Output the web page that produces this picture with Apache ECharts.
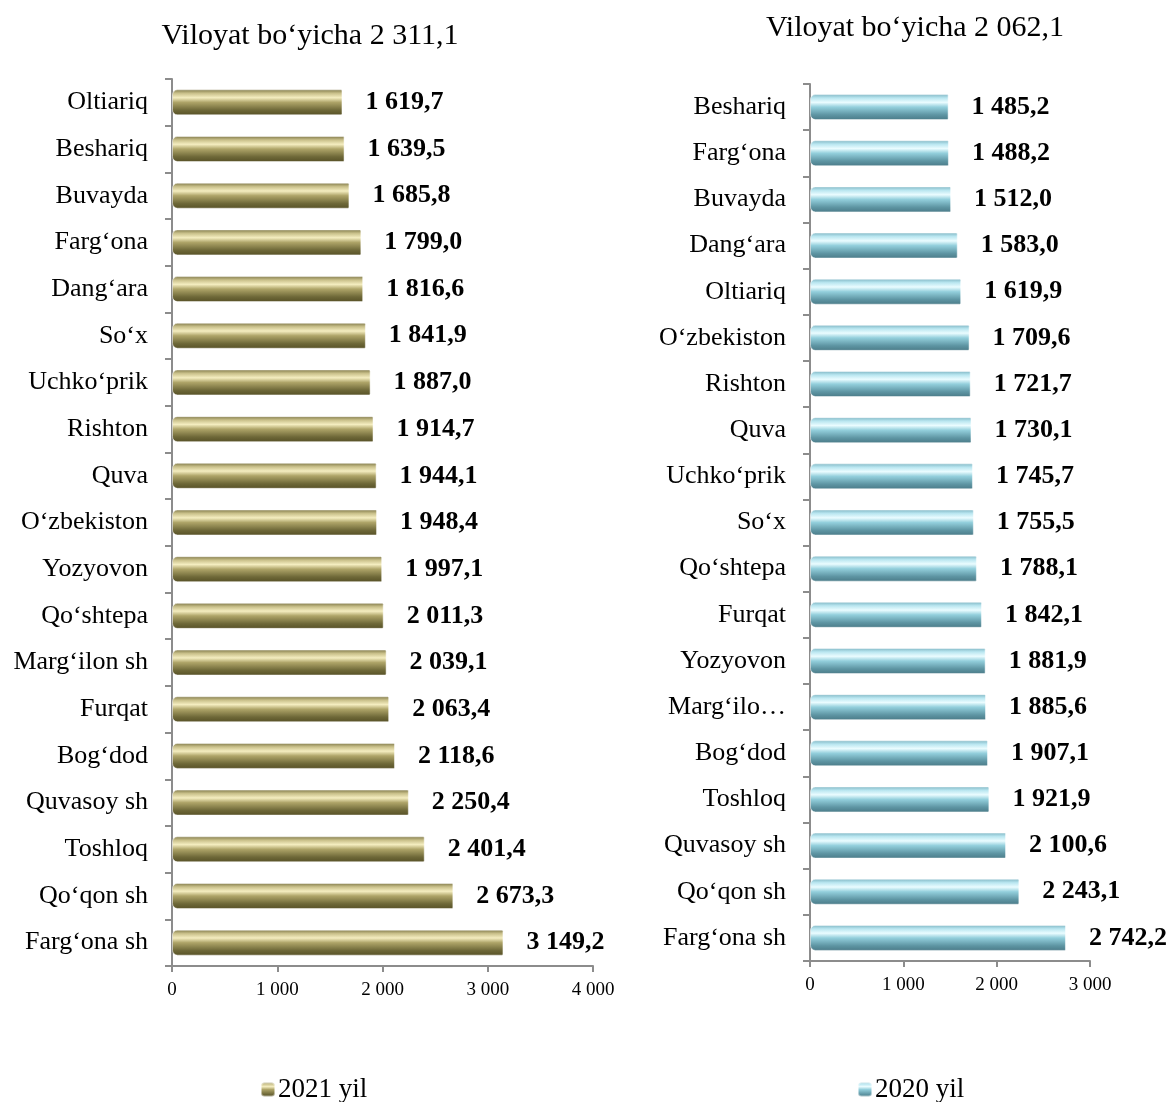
<!DOCTYPE html>
<html>
<head>
<meta charset="utf-8">
<script src="https://cdn.jsdelivr.net/npm/echarts@6/dist/echarts.min.js"></script>
<style>
  html, body { margin: 0; padding: 0; background: #fff; }
  #main { width: 1171px; height: 1102px; }
</style>
</head>
<body>
<div id="main"></div>
<script>
// 2021 yil (top to bottom as in the picture)
const cats2021 = ['Oltiariq', 'Beshariq', 'Buvayda', 'Farg‘ona', 'Dang‘ara', 'So‘x', 'Uchko‘prik', 'Rishton', 'Quva',
  'O‘zbekiston', 'Yozyovon', 'Qo‘shtepa', 'Marg‘ilon sh', 'Furqat', 'Bog‘dod', 'Quvasoy sh', 'Toshloq', 'Qo‘qon sh', 'Farg‘ona sh'];
const vals2021 = [1619.7, 1639.5, 1685.8, 1799.0, 1816.6, 1841.9, 1887.0, 1914.7, 1944.1,
  1948.4, 1997.1, 2011.3, 2039.1, 2063.4, 2118.6, 2250.4, 2401.4, 2673.3, 3149.2];

// 2020 yil
const cats2020 = ['Beshariq', 'Farg‘ona', 'Buvayda', 'Dang‘ara', 'Oltiariq', 'O‘zbekiston', 'Rishton', 'Quva', 'Uchko‘prik',
  'So‘x', 'Qo‘shtepa', 'Furqat', 'Yozyovon', 'Marg‘ilon sh', 'Bog‘dod', 'Toshloq', 'Quvasoy sh', 'Qo‘qon sh', 'Farg‘ona sh'];
const vals2020 = [1485.2, 1488.2, 1512.0, 1583.0, 1619.9, 1709.6, 1721.7, 1730.1, 1745.7,
  1755.5, 1788.1, 1842.1, 1881.9, 1885.6, 1907.1, 1921.9, 2100.6, 2243.1, 2742.2];

const title2021 = 'Viloyat bo‘yicha 2 311,1';
const title2020 = 'Viloyat bo‘yicha 2 062,1';

const serif = '"Liberation Serif", "DejaVu Serif", serif';

// 1 619,7 style numbers
function fmtNum(v, dec) {
  let s = v.toFixed(dec);
  let parts = s.split('.');
  let intPart = parts[0].replace(/\B(?=(\d{3})+(?!\d))/g, ' ');
  return parts.length > 1 ? intPart + ',' + parts[1] : intPart;
}

// cylinder-like gradients
const gold = new echarts.graphic.LinearGradient(0, 0, 0, 1, [
  { offset: 0, color: '#7d7647' },
  { offset: 0.15, color: '#c9c08a' },
  { offset: 0.32, color: '#f4edc0' },
  { offset: 0.5, color: '#aea468' },
  { offset: 0.8, color: '#6e6838' },
  { offset: 1, color: '#565026' }
]);
const blue = new echarts.graphic.LinearGradient(0, 0, 0, 1, [
  { offset: 0, color: '#7eb4c2' },
  { offset: 0.15, color: '#b9e6f0' },
  { offset: 0.32, color: '#eafcff' },
  { offset: 0.5, color: '#93cfdc' },
  { offset: 0.8, color: '#5e95a3' },
  { offset: 1, color: '#4a7a87' }
]);

function catAxis(idx, data, labelWidth) {
  return {
    type: 'category',
    gridIndex: idx,
    inverse: true,
    data: data,
    axisLine: { show: true, lineStyle: { color: '#8c8c8c', width: 2 } },
    axisTick: { show: true, length: 7, lineStyle: { color: '#8c8c8c', width: 2 } },
    axisLabel: {
      color: '#000', fontFamily: serif, fontSize: 26, margin: 24,
      width: labelWidth, overflow: 'truncate', ellipsis: '…'
    }
  };
}

function valAxis(idx, max) {
  return {
    type: 'value',
    gridIndex: idx,
    min: 0,
    max: max,
    interval: 1000,
    splitLine: { show: false },
    axisLine: { show: true, lineStyle: { color: '#8c8c8c', width: 2 } },
    axisTick: { show: true, length: 6, lineStyle: { color: '#8c8c8c', width: 2 } },
    axisLabel: {
      color: '#000', fontFamily: serif, fontSize: 19, margin: 15,
      formatter: function (v) { return fmtNum(v, 0); }
    }
  };
}

function barSeries(idx, name, vals, color) {
  return {
    name: name,
    type: 'bar',
    xAxisIndex: idx,
    yAxisIndex: idx,
    data: vals,
    barWidth: 26,
    itemStyle: { color: color, borderRadius: [5, 1, 1, 5], borderColor: 'rgba(255,255,255,0.5)', borderWidth: 1 },
    label: {
      show: true,
      position: 'right',
      distance: 23,
      color: '#000',
      fontFamily: serif,
      fontSize: 26,
      fontWeight: 'bold',
      formatter: function (p) { return fmtNum(p.value, 1); }
    }
  };
}

let myChart = echarts.init(document.getElementById('main'));
let option = {
  backgroundColor: '#fff',
  animation: false,
  title: [
    { text: title2021, left: 305, top: 16, textAlign: 'center',
      textStyle: { fontFamily: serif, fontSize: 30, fontWeight: 'normal', color: '#000' } },
    { text: title2020, left: 910, top: 8, textAlign: 'center',
      textStyle: { fontFamily: serif, fontSize: 30, fontWeight: 'normal', color: '#000' } }
  ],
  legend: [
    { data: ['2021 yil'], left: 255, top: 1071, itemWidth: 14, itemHeight: 14, itemGap: 4,
      textStyle: { fontFamily: serif, fontSize: 27, color: '#000', padding: [0, 0, 0, -2] } },
    { data: ['2020 yil'], left: 852, top: 1071, itemWidth: 14, itemHeight: 14, itemGap: 4,
      textStyle: { fontFamily: serif, fontSize: 27, color: '#000', padding: [0, 0, 0, -2] } }
  ],
  grid: [
    { left: 172, top: 79, width: 421, height: 887 },
    { left: 810, top: 84, width: 280, height: 877 }
  ],
  xAxis: [valAxis(0, 4000), valAxis(1, 3000)],
  yAxis: [catAxis(0, cats2021, 160), catAxis(1, cats2020, 130)],
  series: [
    barSeries(0, '2021 yil', vals2021, gold),
    barSeries(1, '2020 yil', vals2020, blue)
  ]
};
myChart.setOption(option);
</script>
</body>
</html>
